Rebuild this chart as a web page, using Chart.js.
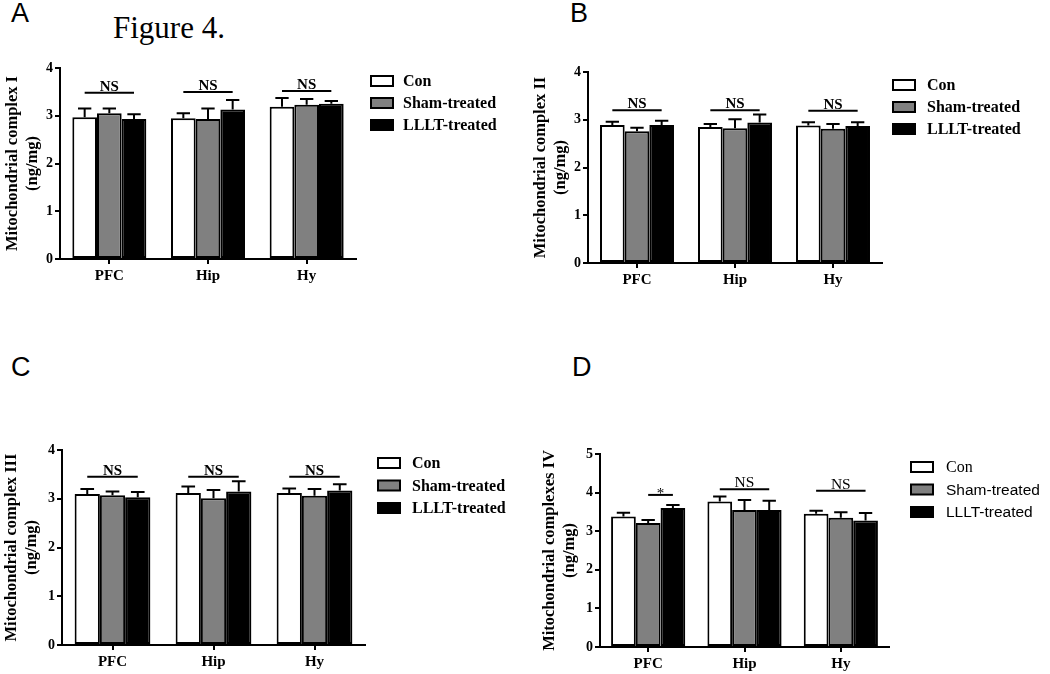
<!DOCTYPE html>
<html>
<head>
<meta charset="utf-8">
<script src="https://cdn.jsdelivr.net/npm/chart.js@4.4.1/dist/chart.umd.min.js"></script>
<style>
  body { margin: 0; background: #fff; width: 1050px; height: 674px; position: relative; overflow: hidden; }
  canvas { position: absolute; }
  .letter { position: absolute; font-family: "Liberation Sans", Arial, sans-serif; font-size: 27px; line-height: 1; color: #000; }
  .fig { position: absolute; font-family: "Liberation Serif", "Times New Roman", serif; font-size: 31px; line-height: 1; color: #000; }
</style>
</head>
<body>
<div class="letter" style="left:11px;top:0px">A</div>
<div class="fig" style="left:113px;top:12px">Figure 4.</div>
<div class="letter" style="left:570px;top:0px">B</div>
<div class="letter" style="left:11px;top:354px">C</div>
<div class="letter" style="left:572px;top:354px">D</div>

<canvas id="chartA" width="525" height="260" style="left:0px;top:40px"></canvas>
<canvas id="chartB" width="525" height="260" style="left:525px;top:40px"></canvas>
<canvas id="chartC" width="525" height="274" style="left:0px;top:400px"></canvas>
<canvas id="chartD" width="525" height="274" style="left:525px;top:400px"></canvas>

<script>
// shared
const regions = ['PFC', 'Hip', 'Hy'];
const groups = ['Con', 'Sham-treated', 'LLLT-treated'];
const groupColors = ['#ffffff', '#808080', '#000000'];

// A - complex I
const complexI_con = [2.97, 2.95, 3.19];
const complexI_sham = [3.05, 2.93, 3.23];
const complexI_lllt = [2.93, 3.13, 3.25];
const complexI_conErr = [0.18, 0.10, 0.18];
const complexI_shamErr = [0.10, 0.22, 0.12];
const complexI_llltErr = [0.10, 0.20, 0.06];

// B - complex II
const complexII_con = [2.89, 2.85, 2.88];
const complexII_sham = [2.76, 2.82, 2.81];
const complexII_lllt = [2.89, 2.94, 2.87];
const complexII_conErr = [0.07, 0.06, 0.07];
const complexII_shamErr = [0.07, 0.19, 0.10];
const complexII_llltErr = [0.09, 0.17, 0.08];

// C - complex III
const complexIII_con = [3.10, 3.12, 3.12];
const complexIII_sham = [3.07, 3.01, 3.06];
const complexIII_lllt = [3.03, 3.15, 3.17];
const complexIII_conErr = [0.10, 0.13, 0.09];
const complexIII_shamErr = [0.08, 0.17, 0.14];
const complexIII_llltErr = [0.11, 0.21, 0.13];

// D - complexes IV
const complexIV_con = [3.38, 3.77, 3.45];
const complexIV_sham = [3.21, 3.55, 3.35];
const complexIV_lllt = [3.60, 3.55, 3.28];
const complexIV_conErr = [0.10, 0.13, 0.08];
const complexIV_shamErr = [0.08, 0.26, 0.14];
const complexIV_llltErr = [0.08, 0.24, 0.19];

// significance brackets: region index, first/last group, level, label
const complexI_sig = [
  {cat: 0, from: 0, to: 2, level: 3.48, text: 'NS'},
  {cat: 1, from: 0, to: 2, level: 3.50, text: 'NS'},
  {cat: 2, from: 0, to: 2, level: 3.52, text: 'NS'}
];
const complexII_sig = [
  {cat: 0, from: 0, to: 2, level: 3.20, text: 'NS'},
  {cat: 1, from: 0, to: 2, level: 3.20, text: 'NS'},
  {cat: 2, from: 0, to: 2, level: 3.19, text: 'NS'}
];
const complexIII_sig = [
  {cat: 0, from: 0, to: 2, level: 3.45, text: 'NS'},
  {cat: 1, from: 0, to: 2, level: 3.45, text: 'NS'},
  {cat: 2, from: 0, to: 2, level: 3.45, text: 'NS'}
];
const complexIV_sig = [
  {cat: 0, from: 1, to: 2, level: 3.94, text: '*'},
  {cat: 1, from: 0, to: 2, level: 4.09, text: 'NS'},
  {cat: 2, from: 0, to: 2, level: 4.05, text: 'NS'}
];

Chart.defaults.font.family = '"Liberation Serif", "Times New Roman", serif';
Chart.defaults.color = '#000';

// upper error bars with a cap
const errorBars = {
  id: 'errorBars',
  afterDatasetsDraw(chart) {
    const ctx = chart.ctx;
    const y = chart.scales.y;
    ctx.save();
    ctx.strokeStyle = '#000';
    ctx.lineWidth = 2;
    chart.data.datasets.forEach((ds, i) => {
      chart.getDatasetMeta(i).data.forEach((bar, j) => {
        const top = y.getPixelForValue(ds.data[j] + ds.errors[j]);
        const half = bar.width * 0.27;
        ctx.beginPath();
        ctx.moveTo(bar.x, bar.y);
        ctx.lineTo(bar.x, top);
        ctx.moveTo(bar.x - half, top);
        ctx.lineTo(bar.x + half, top);
        ctx.stroke();
      });
    });
    ctx.restore();
  }
};

const sigMarks = {
  id: 'sigMarks',
  afterDatasetsDraw(chart, args, opts) {
    const ctx = chart.ctx;
    const y = chart.scales.y;
    ctx.save();
    ctx.strokeStyle = '#000';
    ctx.fillStyle = '#000';
    ctx.lineWidth = 2;
    (opts.marks || []).forEach(m => {
      const a = chart.getDatasetMeta(m.from).data[m.cat];
      const b = chart.getDatasetMeta(m.to).data[m.cat];
      const py = y.getPixelForValue(m.level);
      ctx.beginPath();
      ctx.moveTo(a.x, py);
      ctx.lineTo(b.x, py);
      ctx.stroke();
      ctx.font = m.text === '*' ? '15px "Liberation Serif"' : opts.font;
      ctx.textAlign = 'center';
      ctx.textBaseline = 'alphabetic';
      ctx.fillText(m.text, (a.x + b.x) / 2, m.text === '*' ? py + 3 : py - 2);
    });
    ctx.restore();
  }
};

const sideLegend = {
  id: 'sideLegend',
  afterDraw(chart, args, opts) {
    const ctx = chart.ctx;
    const area = chart.chartArea;
    const x0 = area.right + opts.dx;
    const y0 = area.top + opts.dy;
    ctx.save();
    chart.data.datasets.forEach((ds, i) => {
      const cy = y0 + i * opts.gap;
      ctx.fillStyle = ds.backgroundColor;
      ctx.fillRect(x0, cy - 5, 22, 10);
      ctx.strokeStyle = '#000';
      ctx.lineWidth = 2;
      ctx.strokeRect(x0, cy - 5, 22, 10);
      ctx.fillStyle = '#000';
      ctx.font = opts.fonts[i];
      ctx.textAlign = 'left';
      ctx.textBaseline = 'middle';
      ctx.fillText(ds.label, x0 + opts.textDx, cy + 1);
    });
    ctx.restore();
  }
};

function makeChart(id, p) {
  const series = [p.con, p.sham, p.lllt];
  const errs = [p.conErr, p.shamErr, p.llltErr];
  return new Chart(document.getElementById(id), {
    type: 'bar',
    data: {
      labels: regions,
      datasets: groups.map((g, i) => ({
        label: g,
        data: series[i],
        errors: errs[i],
        backgroundColor: groupColors[i],
        borderColor: '#000',
        borderWidth: 2,
        borderSkipped: false,
        barPercentage: 1.0,
        categoryPercentage: p.catPct
      }))
    },
    options: {
      responsive: false,
      animation: false,
      events: [],
      layout: { padding: p.pad },
      plugins: {
        legend: { display: false },
        tooltip: { enabled: false },
        sigMarks: { marks: p.sig, font: p.sigFont },
        sideLegend: p.legend
      },
      scales: {
        x: {
          afterFit: s => { s.height = 26; },
          grid: { display: true, drawOnChartArea: false, offset: false, tickLength: 5, color: '#000', lineWidth: 2 },
          border: { display: true, color: '#000', width: 2 },
          ticks: { font: { size: 15, weight: 'bold' }, padding: 3 }
        },
        y: {
          min: 0,
          max: p.yMax,
          afterFit: s => { s.width = p.yWidth; },
          grid: { display: true, drawOnChartArea: false, tickLength: 5, color: '#000', lineWidth: 2 },
          border: { display: true, color: '#000', width: 2 },
          ticks: { stepSize: 1, font: { size: 14, weight: 'bold' }, padding: 2 },
          title: {
            display: true,
            text: p.title,
            font: { size: 16.5, weight: 'bold', lineHeight: 1.25 },
            padding: { top: p.titlePad, bottom: 0 }
          }
        }
      }
    },
    plugins: [errorBars, sigMarks, sideLegend]
  });
}

const boldLegend = ['bold 16px "Liberation Serif"', 'bold 16px "Liberation Serif"', 'bold 16px "Liberation Serif"'];

makeChart('chartA', {
  con: complexI_con, sham: complexI_sham, lllt: complexI_lllt,
  conErr: complexI_conErr, shamErr: complexI_shamErr, llltErr: complexI_llltErr,
  sig: complexI_sig, sigFont: 'bold 15px "Liberation Serif"',
  title: ['Mitochondrial complex I', '(ng/mg)'], titlePad: 2,
  yMax: 4, yWidth: 60, catPct: 0.75,
  pad: { left: 0, top: 28, right: 169, bottom: 15 },
  legend: { dx: 15, dy: 13, gap: 22, textDx: 32, fonts: boldLegend }
});

makeChart('chartB', {
  con: complexII_con, sham: complexII_sham, lllt: complexII_lllt,
  conErr: complexII_conErr, shamErr: complexII_shamErr, llltErr: complexII_llltErr,
  sig: complexII_sig, sigFont: 'bold 15px "Liberation Serif"',
  title: ['Mitochondrial complex II', '(ng/mg)'], titlePad: 5,
  yMax: 4, yWidth: 63, catPct: 0.755,
  pad: { left: 0, top: 32, right: 168, bottom: 11 },
  legend: { dx: 11, dy: 13, gap: 22, textDx: 34, fonts: boldLegend }
});

makeChart('chartC', {
  con: complexIII_con, sham: complexIII_sham, lllt: complexIII_lllt,
  conErr: complexIII_conErr, shamErr: complexIII_shamErr, llltErr: complexIII_llltErr,
  sig: complexIII_sig, sigFont: 'bold 15px "Liberation Serif"',
  title: ['Mitochondrial complex III', '(ng/mg)'], titlePad: 1,
  yMax: 4, yWidth: 62, catPct: 0.75,
  pad: { left: 0, top: 50, right: 160, bottom: 3 },
  legend: { dx: 13, dy: 13, gap: 22.5, textDx: 34, fonts: boldLegend }
});

makeChart('chartD', {
  con: complexIV_con, sham: complexIV_sham, lllt: complexIV_lllt,
  conErr: complexIV_conErr, shamErr: complexIV_shamErr, llltErr: complexIV_llltErr,
  sig: complexIV_sig, sigFont: '15.5px "Liberation Serif"',
  title: ['Mitochondrial complexes IV', '(ng/mg)'], titlePad: 14,
  yMax: 5, yWidth: 75, catPct: 0.77,
  pad: { left: 0, top: 54, right: 161, bottom: 1 },
  legend: { dx: 22, dy: 13, gap: 22.5, textDx: 35,
            fonts: ['16px "Liberation Serif"', '15.5px "Liberation Sans"', '15.5px "Liberation Sans"'] }
});
</script>
</body>
</html>
